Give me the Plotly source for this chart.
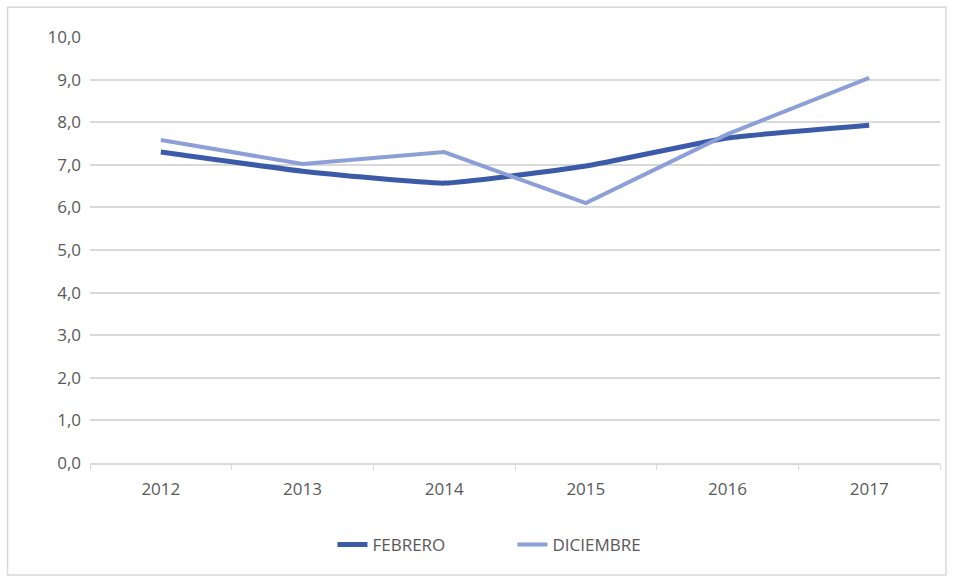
import plotly.graph_objects as go

years = ["2012", "2013", "2014", "2015", "2016", "2017"]
febrero = [7.3, 6.85, 6.57, 6.97, 7.63, 7.93]
diciembre = [7.58, 7.02, 7.3, 6.1, 7.72, 9.04]
y_ticks = [0, 1, 2, 3, 4, 5, 6, 7, 8, 9, 10]

fig = go.Figure()
fig.add_trace(go.Scatter(
    x=years, y=febrero, name="FEBRERO", mode="lines",
    line=dict(color="#3B5AA8", width=5, shape="spline", smoothing=0.4),
))
fig.add_trace(go.Scatter(
    x=years, y=diciembre, name="DICIEMBRE", mode="lines",
    line=dict(color="#8C9FD6", width=4),
))

fig.update_layout(
    width=954, height=579,
    margin=dict(l=90, r=14, t=37, b=116),
    paper_bgcolor="white", plot_bgcolor="white",
    separators=",.",
    font=dict(family="Open Sans, Liberation Sans, sans-serif", size=17, color="#595959"),
    showlegend=True,
    legend=dict(orientation="h", x=0.497, xanchor="center", y=-0.15, yanchor="top",
                font=dict(size=17, color="#595959"),
                entrywidth=135, entrywidthmode="pixels"),
    xaxis=dict(type="category", range=[-0.5, 5.5], showgrid=False,
               showline=True, linecolor="#D9D9D9", linewidth=1.5,
               ticks="outside", tickson="boundaries", ticklen=5, tickcolor="#D9D9D9",
               ticklabelstandoff=10,
               tickfont=dict(size=17, color="#595959")),
    yaxis=dict(range=[0, 10], tickvals=y_ticks, tickformat=".1f",
               showgrid=True, gridcolor="#D9D9D9", gridwidth=1.5,
               zeroline=False, showline=False, ticks="",
               ticklabelstandoff=8,
               tickfont=dict(size=17, color="#595959")),
    shapes=[dict(type="rect", xref="paper", yref="paper",
                 x0=-0.097, x1=1.007, y0=-0.263, y1=1.07,
                 line=dict(color="#D9D9D9", width=1.5), fillcolor="rgba(0,0,0,0)",
                 layer="below")],
)

fig.write_html("out.html")
